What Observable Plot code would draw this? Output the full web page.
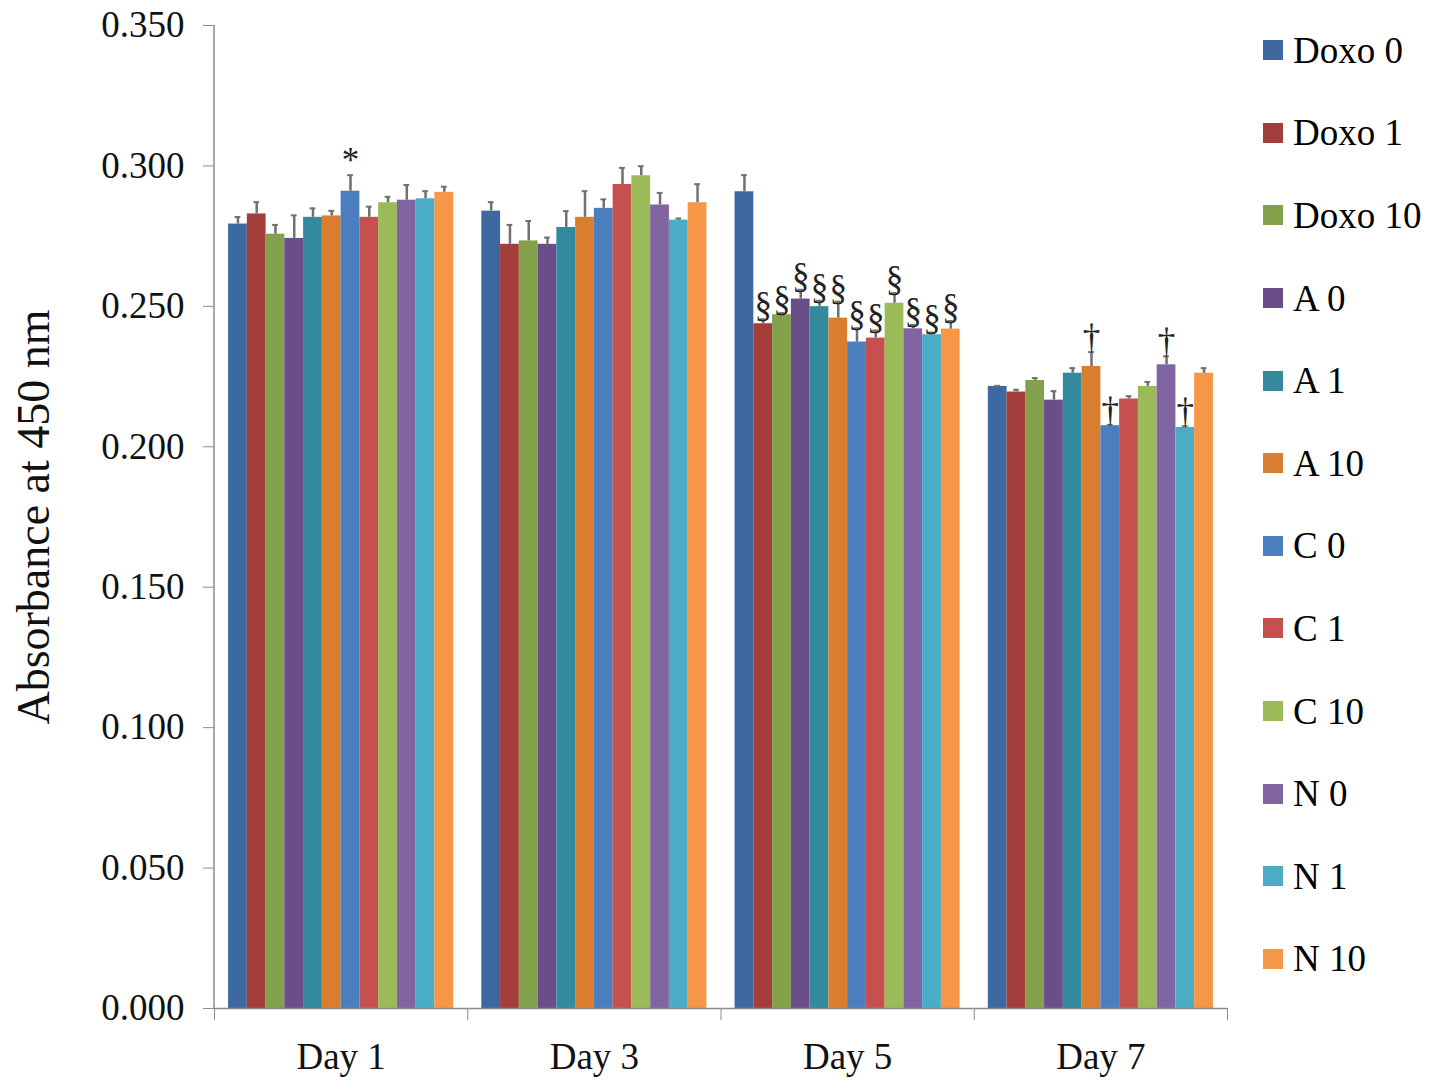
<!DOCTYPE html>
<html>
<head>
<meta charset="utf-8">
<script src="https://cdn.jsdelivr.net/npm/d3@7"></script>
<script src="https://cdn.jsdelivr.net/npm/@observablehq/plot@0.6"></script>
<style>
  body { margin: 0; background: #fff; }
  #wrap { position: relative; width: 1441px; height: 1089px; font-family: "Liberation Serif", "Times New Roman", serif; }
  #legend { position: absolute; left: 1263px; top: 9px; }
  .row { display: flex; align-items: center; height: 82.6px; }
  .sw { width: 20px; height: 20px; margin-right: 10px; }
  .lab { font-size: 37px; line-height: 1; color: #000; }
</style>
</head>
<body>
<div id="wrap">
  <div id="chart01"></div>
  <div id="legend"></div>
</div>
<script>
const days = ["Day 1", "Day 3", "Day 5", "Day 7"]
const groups = ["Doxo 0", "Doxo 1", "Doxo 10", "A 0", "A 1", "A 10", "C 0", "C 1", "C 10", "N 0", "N 1", "N 10"]
const colors = ["#3d68a0", "#a43e3b", "#83a04a", "#6b4d8a", "#338a9f", "#d97d31", "#4a7ebf", "#c5504d", "#9bbb59", "#8165a2", "#4bacc6", "#f79646"]

// mean absorbance per day, one value per group
const day1 = [0.2793, 0.2829, 0.2757, 0.2742, 0.2817, 0.2822, 0.2910, 0.2817, 0.2869, 0.2878, 0.2883, 0.2906]
const day3 = [0.2839, 0.2721, 0.2733, 0.2721, 0.2781, 0.2817, 0.2849, 0.2934, 0.2965, 0.2861, 0.2807, 0.2869]
const day5 = [0.2908, 0.2438, 0.2470, 0.2526, 0.2499, 0.2458, 0.2373, 0.2387, 0.2511, 0.2420, 0.2399, 0.2419]
const day7 = [0.2215, 0.2195, 0.2236, 0.2166, 0.2262, 0.2286, 0.2075, 0.2170, 0.2215, 0.2292, 0.2069, 0.2262]

// error bars (upper only)
const day1Err = [0.0025, 0.0042, 0.0033, 0.0082, 0.0032, 0.0018, 0.0057, 0.0038, 0.0021, 0.0054, 0.0027, 0.0020]
const day3Err = [0.0032, 0.0069, 0.0071, 0.0024, 0.0058, 0.0093, 0.0032, 0.0059, 0.0034, 0.0043, 0.0006, 0.0066]
const day5Err = [0.0059, 0.0016, 0.0006, 0.0033, 0.0021, 0.0059, 0.0049, 0.0027, 0.0036, 0.0014, 0.0008, 0.0029]
const day7Err = [0.0002, 0.0008, 0.0009, 0.0032, 0.0018, 0.0051, 0.0003, 0.0010, 0.0016, 0.0030, 0.0004, 0.0018]

// significance marks
const day1Sig = ["", "", "", "", "", "", "*", "", "", "", "", ""]
const day3Sig = ["", "", "", "", "", "", "", "", "", "", "", ""]
const day5Sig = ["", "§", "§", "§", "§", "§", "§", "§", "§", "§", "§", "§"]
const day7Sig = ["", "", "", "", "", "†", "†", "", "", "†", "†", ""]

const yTicks = [0, 0.05, 0.1, 0.15, 0.2, 0.25, 0.3, 0.35]

const means = [day1, day3, day5, day7]
const errs = [day1Err, day3Err, day5Err, day7Err]
const sigs = [day1Sig, day3Sig, day5Sig, day7Sig]

let data = []
days.forEach((day, i) => {
  groups.forEach((g, j) => {
    data.push({day: day, group: g, value: means[i][j], top: means[i][j] + errs[i][j], sig: sigs[i][j]})
  })
})

const W = 1441, H = 1089, mL = 214, mR = 214, mT = 25, mB = 81
const bw = (W - mL - mR) / days.length

let chart = Plot.plot({
  width: W,
  height: H,
  marginLeft: mL,
  marginRight: mR,
  marginTop: mT,
  marginBottom: mB,
  style: {fontFamily: '"Liberation Serif", "Times New Roman", serif', fontSize: "37px", color: "#000", background: "#fff"},
  fx: {domain: days, padding: 0, round: false, label: null},
  x: {domain: groups, paddingInner: 0, paddingOuter: 0.75, round: false, axis: null},
  y: {domain: [0, 0.35]},
  color: {domain: groups, range: colors},
  marks: [
    Plot.barY(data, {fx: "day", x: "group", y: "value", fill: "group"}),
    Plot.ruleX(data, {fx: "day", x: "group", y1: "value", y2: "top", stroke: "#707070", strokeWidth: 2.5}),
    Plot.tickY(data, {fx: "day", x: "group", y: "top", stroke: "#707070", strokeWidth: 2, insetLeft: 6.5, insetRight: 6.5}),
    Plot.text(data.filter(d => d.sig !== ""), {fx: "day", x: "group", y: "top", text: "sig", lineAnchor: "bottom", dy: -3, fontSize: 35, fill: "#222"}),
    Plot.ruleY([0], {stroke: "#8c8c8c", strokeWidth: 1.5}),
    Plot.axisY({ticks: yTicks, tickFormat: d3.format(".3f"), tickSize: 11, tickPadding: 19, stroke: "#8c8c8c", fill: "#111",
      label: "Absorbance at 450 nm", labelAnchor: "center", labelOffset: 198, labelArrow: "none"}),
    Plot.axisFx({anchor: "bottom", tickSize: 0, tickPadding: 34, label: null, fill: "#111"}),
    Plot.axisFx({anchor: "bottom", tickSize: 12, tickFormat: () => "", label: null, stroke: "#8c8c8c", dx: -bw / 2}),
    Plot.axisFx({anchor: "bottom", ticks: ["Day 7"], tickSize: 12, tickFormat: () => "", label: null, stroke: "#8c8c8c", dx: bw / 2})
  ]
})

// y axis line along the left edge of the frame
let y = chart.scale("y")
d3.select(chart).append("line")
  .attr("x1", mL).attr("x2", mL)
  .attr("y1", y.apply(0.35)).attr("y2", y.apply(0))
  .attr("stroke", "#8c8c8c").attr("stroke-width", 1.5)

d3.select(chart).selectAll('g[aria-label="y-axis label"]').attr("font-size", 46)

d3.select('#chart01').append(() => chart)

// legend on the right
let legend = d3.select('#legend')
groups.forEach((g, i) => {
  let row = legend.append('div').attr('class', 'row')
  row.append('div').attr('class', 'sw').style('background', colors[i])
  row.append('div').attr('class', 'lab').text(g)
})
</script>
</body>
</html>
